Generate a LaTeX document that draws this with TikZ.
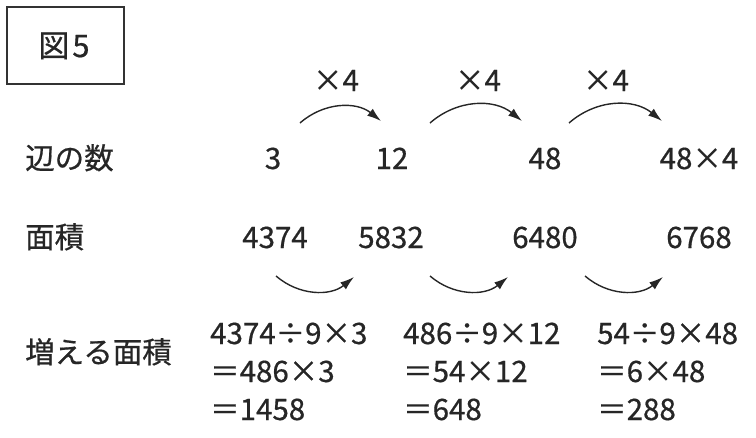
\documentclass[tikz,border=0pt]{standalone}
\usepackage{fontspec}
\setmainfont{Noto Sans CJK JP}[FakeBold=0.6]
\usetikzlibrary{arrows.meta}
\begin{document}
\begin{tikzpicture}[x=1pt,y=-1pt,
  txt/.style={inner sep=0pt,font=\fontsize{29.5}{34}\selectfont,text=black!85,anchor=base},
  lbl/.style={txt,anchor=base west},
  calc/.style={txt,anchor=base west},
  arr/.style={line width=1.4pt,black!85,-{Latex[length=14pt,width=9pt]}}]
\useasboundingbox (0,0) rectangle (756,437);
% title box
\node[draw=black!80,line width=1.5pt,minimum width=117pt,minimum height=77pt,inner sep=0pt] (box) at (65.5,45.5) {};
\node[txt,font=\fontsize{31}{34}\selectfont] (title) at (64,57) {図\hspace{3pt}5};
% row labels
\node[lbl] (l1) at (25,169) {辺の数};
\node[lbl] (l2) at (25,248) {面積};
\node[lbl] (l3) at (25,363) {増える面積};
% row 1
\node[txt] (s1) at (273,169) {3};
\node[txt] (s2) at (392,169) {12};
\node[txt] (s3) at (545,169) {48};
\node[txt] (s4) at (699,169) {48×4};
% multipliers
\node[txt] (m1) at (336,91) {×4};
\node[txt] (m2) at (478,91) {×4};
\node[txt] (m3) at (606,91) {×4};
% row 2
\node[txt] (a1) at (275,248) {4374};
\node[txt] (a2) at (391,248) {5832};
\node[txt] (a3) at (545,248) {6480};
\node[txt] (a4) at (699,248) {6768};
% calculations
\node[calc] (c11) at (210,344) {4374÷9×3};
\node[calc] (c12) at (210,382) {＝486×3};
\node[calc] (c13) at (210,420) {＝1458};
\node[calc] (c21) at (403,344) {486÷9×12};
\node[calc] (c22) at (403,382) {＝54×12};
\node[calc] (c23) at (403,420) {＝648};
\node[calc] (c31) at (597,344) {54÷9×48};
\node[calc] (c32) at (597,382) {＝6×48};
\node[calc] (c33) at (597,420) {＝288};
% arrow end points
\coordinate (t1s) at (300,123); \coordinate (t1e) at (381,121);
\coordinate (t2s) at (430,123); \coordinate (t2e) at (522,121);
\coordinate (t3s) at (569,123); \coordinate (t3e) at (662,121);
\coordinate (b1s) at (276,276); \coordinate (b1e) at (354,277);
\coordinate (b2s) at (430,276); \coordinate (b2e) at (508,277);
\coordinate (b3s) at (585,276); \coordinate (b3e) at (663,277);
\draw[arr] (t1s) to[bend left=40] (t1e);
\draw[arr] (t2s) to[bend left=40] (t2e);
\draw[arr] (t3s) to[bend left=40] (t3e);
\draw[arr] (b1s) to[bend right=40] (b1e);
\draw[arr] (b2s) to[bend right=40] (b2e);
\draw[arr] (b3s) to[bend right=40] (b3e);
\end{tikzpicture}
\end{document}
